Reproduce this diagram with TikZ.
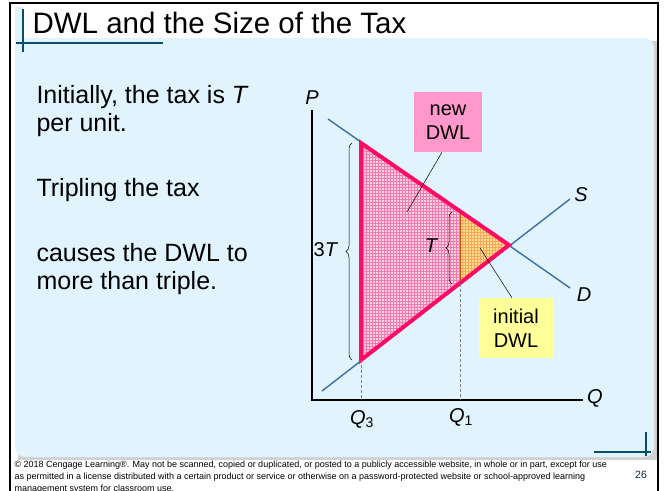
\documentclass[tikz,border=0pt]{standalone}
\usepackage{fontspec}
\setmainfont{Liberation Sans}
\usetikzlibrary{patterns,decorations.pathreplacing}
\definecolor{panelblue}{HTML}{E1F3FD}
\definecolor{frameteal}{HTML}{0B4D6E}
\definecolor{curveblue}{HTML}{3C6FA6}
\definecolor{dwlred}{HTML}{FF0A64}
\definecolor{bigfill}{HTML}{FAD0E3}
\definecolor{biggrid}{HTML}{F27AAE}
\definecolor{smallfill}{HTML}{FFE27E}
\definecolor{smallgrid}{HTML}{F5A46A}
\definecolor{newbox}{HTML}{FF99CC}
\definecolor{initbox}{HTML}{FFFF99}

\begin{document}
\begin{tikzpicture}[x=1pt,y=-1pt,
                    curve/.style={draw=curveblue, line width=1.4pt},
                    dwl edge/.style={draw=dwlred, line width=4pt, line join=miter},
                    axis label/.style={font=\fontsize{20}{20}\selectfont\itshape},
                    guide/.style={draw=gray, densely dashed, line width=0.6pt},
                    tax brace/.style={decorate, decoration={brace, amplitude=6pt}, line width=0.5pt},
                    callout/.style={minimum width=68pt, minimum height=60pt, align=center,
                                    font=\fontsize{20}{24}\selectfont, inner sep=2pt},
                    leader/.style={draw=black, line width=0.5pt},
                    body text/.style={anchor=base west, align=left,
                                      font=\fontsize{25}{27.5}\selectfont}]
  \useasboundingbox (0,0) rectangle (668,490);
  \fill[white] (0,0) rectangle (668,490);

  % slide frame and panel
  \fill[black!18] (18,41) rectangle (657,460);
  \fill[panelblue, rounded corners=10pt] (15,38) rectangle (654,457);
  \fill[panelblue] (15,7) rectangle (22,45);
  \draw[black, line width=2pt] (10,3) rectangle (658,495);
  \draw[frameteal, line width=2.5pt] (23,9) -- (23,52);
  \draw[frameteal, line width=2.5pt] (16,43) -- (163,43);
  \draw[frameteal, line width=2.5pt] (646,432) -- (646,456);
  \draw[frameteal, line width=2.5pt] (594,452) -- (651,452);

  \node[anchor=base west, font=\fontsize{29.5}{32}\selectfont] (title) at (29,33)
    {DWL and the Size of the Tax};

  % text on the left (base anchor sits on the last line)
  \node[body text] (intro) at (33,131) {Initially, the tax is \textit{T}\\per unit.};
  \node[body text] (triple) at (33,196) {Tripling the tax};
  \node[body text] (result) at (33,289) {causes the DWL to\\more than triple.};

  % points of the graph
  \coordinate (origin) at (312,400);
  \coordinate (ptop) at (312,110);
  \coordinate (qend) at (583,400);
  \coordinate (dstart) at (328,119);
  \coordinate (dend) at (570,288);
  \coordinate (sstart) at (322,391);
  \coordinate (send) at (570,199);
  \coordinate (eq) at (509,245);
  \coordinate (bigtop) at (361,143);
  \coordinate (bigbot) at (361,360);
  \coordinate (smalltop) at (460,212);
  \coordinate (smallbot) at (460,284);
  \coordinate (q3foot) at (361,400);
  \coordinate (q1foot) at (460,400);

  % deadweight loss areas
  \fill[bigfill] (bigtop) -- (eq) -- (bigbot) -- cycle;
  \fill[pattern=grid, pattern color=biggrid] (bigtop) -- (eq) -- (bigbot) -- cycle;
  \fill[smallfill] (smalltop) -- (eq) -- (smallbot) -- cycle;
  \fill[pattern=grid, pattern color=smallgrid] (smalltop) -- (eq) -- (smallbot) -- cycle;
  \draw[draw=orange!70!black, line width=0.6pt] (smalltop) -- (smallbot);

  % curves and axes
  \draw[curve] (dstart) -- (dend);
  \draw[curve] (sstart) -- (send);
  \draw[dwl edge] (bigtop) -- (eq) -- (bigbot) -- cycle;
  \draw[line width=1.2pt] (ptop) -- (origin) -- (qend);
  \draw[guide] (bigbot) -- (q3foot);
  \draw[guide] (smallbot) -- (q1foot);

  \node[axis label] (plabel) at (312,98) {P};
  \node[axis label] (qlabel) at (595,398) {Q};
  \node[axis label] (slabel) at (581,195) {S};
  \node[axis label] (dlabel) at (584,295) {D};
  \node[font=\fontsize{20}{20}\selectfont] (q3label) at (362,419) {\textit{Q}\textsubscript{3}};
  \node[font=\fontsize{20}{20}\selectfont] (q1label) at (461,417) {\textit{Q}\textsubscript{1}};

  % braces for the tax
  \draw[tax brace] (352,360) -- (352,143);
  \node[font=\fontsize{20}{20}\selectfont] (bigtax) at (326,250) {3\textit{T}};
  \draw[tax brace] (452,284) -- (452,212);
  \node[font=\fontsize{20}{20}\selectfont\itshape] (smalltax) at (431,246) {T};

  % callouts
  \node[callout, fill=newbox] (newdwl) at (448,122) {new\\DWL};
  \node[callout, fill=initbox, minimum width=74pt] (initdwl) at (516,328) {initial\\DWL};
  \coordinate (newtip) at (407,212);
  \coordinate (inittip) at (480,248);
  \draw[leader] ([xshift=-6pt]newdwl.south) -- (newtip);
  \draw[leader] ([xshift=-4pt]initdwl.north) -- (inittip);

  % footer
  \node[anchor=base west, align=left, font=\fontsize{9}{12}\selectfont] (footer) at (11,491)
    {\textcopyright{} 2018 Cengage Learning\textregistered. May not be scanned, copied or duplicated, or posted to a publicly accessible website, in whole or in part, except for use\\
     as permitted in a license distributed with a certain product or service or otherwise on a password-protected website or school-approved learning\\
     management system for classroom use.};
  \node[font=\fontsize{10.5}{10.5}\selectfont, text=frameteal!60!black] (pagenum) at (641,475) {26};
\end{tikzpicture}
\end{document}
